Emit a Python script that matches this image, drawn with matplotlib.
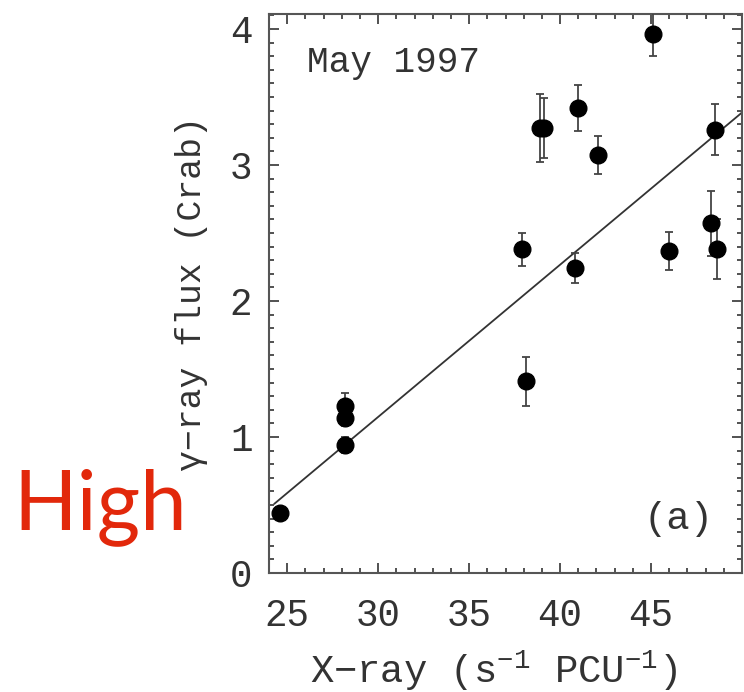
import numpy as np
import matplotlib
matplotlib.use("Agg")
import matplotlib.pyplot as plt

# X-ray rate vs gamma-ray flux, May 1997
xray = [24.6, 28.2, 28.2, 28.2, 37.9, 38.1, 38.9, 39.1, 41.0, 40.8, 42.1, 45.1, 46.0, 48.3, 48.5, 48.6]
gamma = [0.44, 1.23, 1.14, 0.94, 2.38, 1.41, 3.27, 3.27, 3.42, 2.24, 3.07, 3.96, 2.37, 2.57, 3.26, 2.38]
gamma_err = [0.03, 0.09, 0.06, 0.06, 0.12, 0.18, 0.25, 0.22, 0.17, 0.11, 0.14, 0.16, 0.14, 0.24, 0.19, 0.22]

# linear fit shown in the panel
fit_x = [24.3, 50.0]
fit_slope = 0.1119
fit_icpt = 0.513 - 0.1119 * 24.33

xticks = [25, 30, 35, 40, 45]
yticks = [0, 1, 2, 3, 4]

plt.rcParams["mathtext.fontset"] = "custom"
plt.rcParams["mathtext.rm"] = "Liberation Mono"
plt.rcParams["mathtext.it"] = "Liberation Mono"
fam = ["Liberation Mono", "DejaVu Serif"]
ink = "#333333"

fig = plt.figure(figsize=(7.44, 6.92), dpi=100)
ax = fig.add_axes([0.3616, 0.172, 0.6357, 0.8078])

ax.errorbar(xray, gamma, yerr=gamma_err, fmt="o", color="black", ms=12,
            ecolor="#444444", elinewidth=1.3, capsize=3, capthick=1.3, zorder=3)
fx = np.array(fit_x)
ax.plot(fx, fit_icpt + fit_slope * fx, color="#333333", lw=1.3, zorder=2)

ax.set_xlim(24, 50)
ax.set_ylim(0, 4.11)
ax.set_xticks(xticks)
ax.set_yticks(yticks)
ax.set_xticks(np.arange(24, 51, 1), minor=True)
ax.set_yticks(np.arange(0, 4.11, 0.1), minor=True)
ax.tick_params(which="both", direction="in", top=True, right=True, color=ink, width=1.2)
ax.tick_params(which="major", length=7)
ax.tick_params(which="minor", length=3.6)
ax.tick_params(axis="x", pad=18)
ax.tick_params(axis="y", pad=12)
for lab in ax.get_xticklabels() + ax.get_yticklabels():
    lab.set_family(fam)
    lab.set_fontsize(27)
    lab.set_color(ink)
for s in ax.spines.values():
    s.set_color("#555555")
    s.set_linewidth(1.5)

ax.set_xlabel("X\u2212ray (s$^{\u22121}$ PCU$^{\u22121}$)", family=fam, fontsize=28, color=ink)
ax.xaxis.set_label_coords(0.474, -0.135)
ax.set_ylabel("\u03b3\u2212ray flux (Crab)", family=fam, fontsize=25, color=ink)
ax.yaxis.set_label_coords(-0.128, 0.5)

ax.text(0.08, 0.945, "May 1997", transform=ax.transAxes, family=fam, fontsize=26,
        color=ink, ha="left", va="top")
ax.text(0.94, 0.065, "(a)", transform=ax.transAxes, family=fam, fontsize=28,
        color=ink, ha="right", va="bottom")

fig.text(0.018, 0.235, "High", family=["Lato", "DejaVu Sans"], fontsize=60,
         color="#e2280b", ha="left", va="baseline")

fig.savefig("out.png", dpi=100)
